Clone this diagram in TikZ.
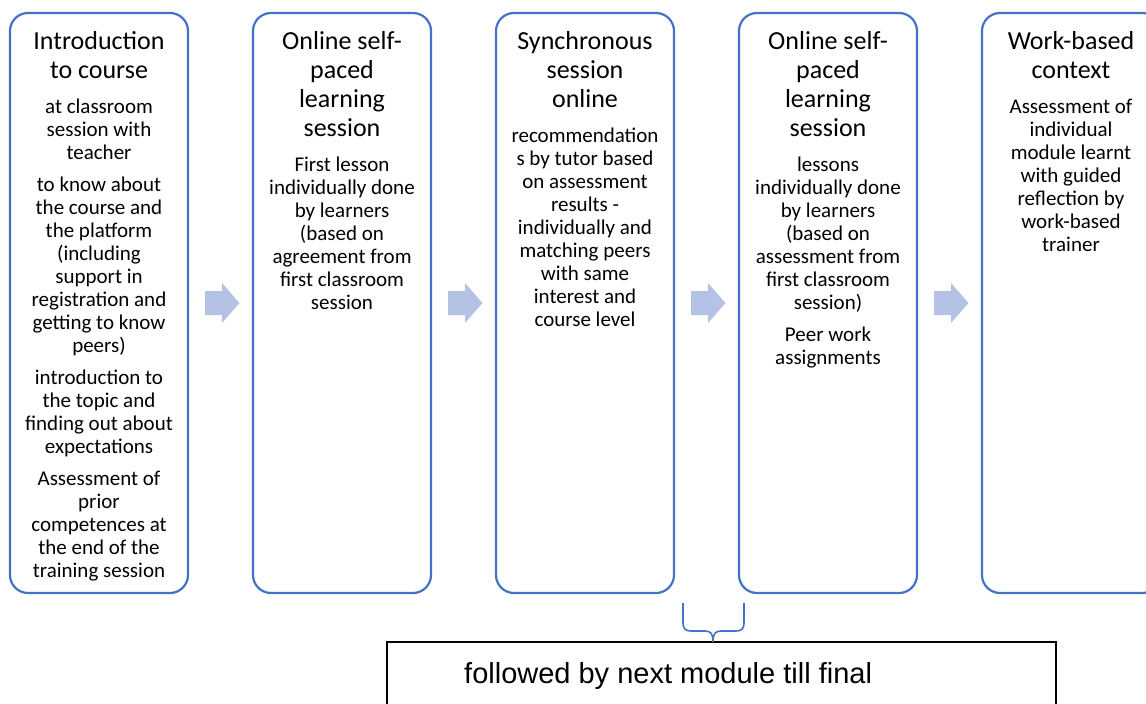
\documentclass[tikz,border=0pt]{standalone}
\usepackage{fontspec}
\setmainfont{Carlito}
\newfontfamily\notefont{Liberation Sans}
\usetikzlibrary{positioning}

\definecolor{stageblue}{RGB}{68,114,196}
\definecolor{flowblue}{RGB}{180,194,230}

\tikzset{
	stagebox/.style={draw=stageblue, line width=2.2pt, rounded corners=18pt, fill=white, minimum width=178pt, minimum height=580pt},
	headtext/.style={anchor=north, align=center, inner sep=0pt, font=\fontsize{26}{29}\selectfont},
	bodytext/.style={align=center, inner sep=0pt, font=\fontsize{21}{23}\selectfont},
	flowarrow/.style={fill=flowblue},
	notebox/.style={draw=black, line width=1.3pt, minimum width=669pt, minimum height=120pt},
	bracebar/.style={draw=stageblue, line width=1.6pt}
}

\begin{document}
\begin{tikzpicture}[x=1pt,y=-1pt]
	\useasboundingbox (0,0) rectangle (1146,704);
	\clip (0,0) rectangle (1146,704);

	% stages
	\node[stagebox] (s1) at (99,303) {};
	\node[stagebox] (s2) at (342,303) {};
	\node[stagebox] (s3) at (585,303) {};
	\node[stagebox] (s4) at (828,303) {};
	\node[stagebox] (s5) at (1071,303) {};

	% stage titles
	\node[headtext] (t1) at ([yshift=-19pt]s1.north) {Introduction\\to course};
	\node[headtext] (t2) at ([yshift=-19pt]s2.north) {Online self-\\paced\\learning\\session};
	\node[headtext] (t3) at ([yshift=-19pt]s3.north) {Synchronous\\session\\online};
	\node[headtext] (t4) at ([yshift=-19pt]s4.north) {Online self-\\paced\\learning\\session};
	\node[headtext] (t5) at ([yshift=-19pt]s5.north) {Work-based\\context};

	% stage texts
	\begin{scope}
		\clip (s1.north west) rectangle ([yshift=14pt]s1.south east);
		\node[bodytext, below=20pt of t1] (b1) {at classroom\\session with\\teacher\\[9pt]
			to know about\\the course and\\the platform\\(including\\support in\\registration and\\getting to know\\peers)\\[9pt]
			introduction to\\the topic and\\finding out about\\expectations\\[9pt]
			Assessment of\\prior\\competences at\\the end of the\\training session};
	\end{scope}
	\node[bodytext, below=20pt of t2] (b2) {First lesson\\individually done\\by learners\\(based on\\agreement from\\first classroom\\session};
	\node[bodytext, below=20pt of t3] (b3) {recommendation\\s by tutor based\\on assessment\\results -\\individually and\\matching peers\\with same\\interest and\\course level};
	\node[bodytext, below=20pt of t4] (b4) {lessons\\individually done\\by learners\\(based on\\assessment from\\first classroom\\session)\\[9pt]
		Peer work\\assignments};
	\node[bodytext, below=20pt of t5] (b5) {Assessment of\\individual\\module learnt\\with guided\\reflection by\\work-based\\trainer};

	% arrows between stages
	\foreach \x in {222.5,465.5,708.5,951.5}
		\fill[flowarrow, shift={(\x,303)}] (-17.5,-12) -- (-0.5,-12) -- (-0.5,-20) -- (17,0) -- (-0.5,20) -- (-0.5,12) -- (-17.5,12) -- cycle;

	% next module
	\node[notebox] (next) at (721.5,702) {};
	\node[anchor=base west, inner sep=0pt, font=\notefont\fontsize{29}{33}\selectfont] (nexttext) at (464,683) {followed by next module till final};

	\coordinate (bl) at (683,603);
	\coordinate (br) at (744,603);
	\coordinate (tip) at (713,642);
	\draw[bracebar] (bl) -- ++(0,19) .. controls ++(0,7) and ++(-7,0) .. (692,631) -- (705,631)
		.. controls (711,631) and (713,634) .. (tip) .. controls (713,634) and (715,631) .. (721,631)
		-- (735,631) .. controls ++(7,0) and ++(0,7) .. (744,622) -- (br);
\end{tikzpicture}
\end{document}
